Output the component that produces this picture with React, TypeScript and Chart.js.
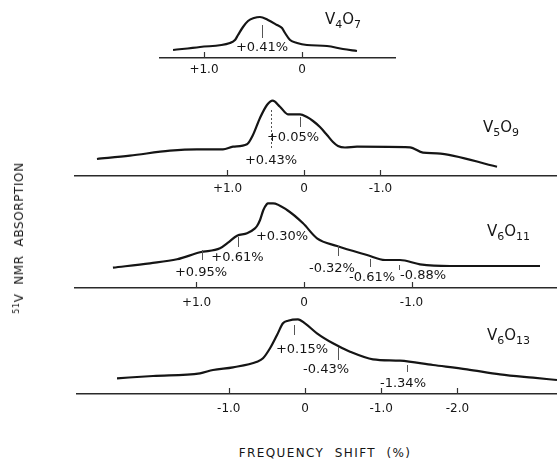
import { useEffect, useRef } from "react";
import { Chart, registerables } from "chart.js";

Chart.register(...registerables);

const FONT = '"DejaVu Sans", sans-serif';
const INK = "#151515";
const AXIS_H = 26;
const WIDTH = 557;

// Frequency shift (%) and relative 51V absorption for each oxide
const v4o7Shift = [1.316, 1.04, 0.735, 0.684, 0.653, 0.602, 0.551, 0.49, 0.429, 0.347, 0.255, 0.204, 0.173, 0.122, 0.05, -0.05, -0.255, -0.418, -0.561];
const v4o7Abs = [8, 11, 15, 18, 23, 31, 37, 40, 41, 38, 33, 30, 25, 18, 15, 13, 12, 9, 7];

const v5o9Shift = [2.706, 2.275, 1.752, 1.399, 1.059, 0.928, 0.745, 0.667, 0.575, 0.484, 0.409, 0.314, 0.209, 0.052, -0.039, -0.118, -0.209, -0.301, -0.379, -0.444, -0.536, -0.693, -1.386, -1.556, -1.739, -2.523];
const v5o9Abs = [17, 20.3, 25.3, 26.7, 26.7, 29.3, 31.7, 41, 58, 71, 75.3, 69.3, 61.7, 61.7, 59, 55, 49, 41, 34, 30, 28.5, 29.3, 28.7, 23.3, 22.7, 9.3];

const v6o11Shift = [1.777, 1.433, 1.181, 0.967, 0.781, 0.707, 0.623, 0.53, 0.456, 0.437, 0.409, 0.378, 0.347, 0.335, 0.288, 0.158, 0.009, -0.121, -0.307, -0.586, -0.754, -0.893, -1.079, -1.358, -2.195];
const v6o11Abs = [20.3, 24.7, 28.7, 35.7, 39.7, 45.3, 52.3, 54.7, 59.7, 62, 68, 78, 83.7, 84.7, 84.7, 78, 64.7, 49.7, 42, 33, 28, 28, 23.7, 22, 22];

const v6o13Shift = [2.467, 1.995, 1.378, 1.207, 0.945, 0.63, 0.551, 0.459, 0.367, 0.289, 0.223, 0.092, 0, -0.157, -0.367, -0.591, -0.892, -1.247, -1.68, -2.126, -2.559, -2.992, -3.307];
const v6o13Abs = [15.7, 18, 20.7, 24, 26.7, 32.3, 35.7, 45.7, 59, 70.7, 73.3, 74.7, 70.7, 60.7, 50.7, 42.3, 34.7, 33.3, 29, 24.7, 19.7, 16.3, 14];

// Axis tick values and their printed labels
const v4o7Ticks = [1, 0];
const v4o7TickLabels = ["+1.0", "0"];
const v5o9Ticks = [1, 0, -1];
const v5o9TickLabels = ["+1.0", "0", "-1.0"];
const v6o11Ticks = [1, 0, -1];
const v6o11TickLabels = ["+1.0", "0", "-1.0"];
const v6o13Ticks = [1, 0, -1, -2];
const v6o13TickLabels = ["-1.0", "0", "-1.0", "-2.0"];

// Resolved line positions (%) marked on each spectrum
const v4o7Lines = [0.41];
const v5o9Lines = [0.43, 0.05];
const v6o11Lines = [0.95, 0.61, 0.3, -0.32, -0.61, -0.88];
const v6o13Lines = [0.15, -0.43, -1.34];

const pct = (v: number) => (v > 0 ? "+" : "-") + Math.abs(v).toFixed(2) + "%";

type Mark = { from?: number; to?: number; tx: number; ty: number; dashed?: boolean };

type Panel = {
  shift: number[];
  abs: number[];
  ticks: number[];
  tickLabels: string[];
  lines: number[];
  marks: Mark[];
  top: number;
  plotH: number;
  padLeft: number;
  padRight: number;
  min: number;
  max: number;
  tickPad: number;
};

const panels: Panel[] = [
  {
    shift: v4o7Shift, abs: v4o7Abs, ticks: v4o7Ticks, tickLabels: v4o7TickLabels, lines: v4o7Lines,
    marks: [{ from: 33, to: 20, tx: 0.408, ty: 10 }],
    top: 0, plotH: 58, padLeft: 160, padRight: 162, min: -0.949, max: 1.449, tickPad: 5,
  },
  {
    shift: v5o9Shift, abs: v5o9Abs, ticks: v5o9Ticks, tickLabels: v5o9TickLabels, lines: v5o9Lines,
    marks: [
      { from: 66, to: 28, tx: 0.431, ty: 15, dashed: true },
      { from: 59, to: 49, tx: 0.144, ty: 38.3 },
    ],
    top: 95, plotH: 81, padLeft: 75, padRight: 0, min: -3.307, max: 2.993, tickPad: 5.5,
  },
  {
    shift: v6o11Shift, abs: v6o11Abs, ticks: v6o11Ticks, tickLabels: v6o11TickLabels, lines: v6o11Lines,
    marks: [
      { from: 38, to: 28, tx: 0.958, ty: 15 },
      { from: 51, to: 41, tx: 0.619, ty: 30 },
      { tx: 0.205, ty: 51.3 },
      { from: 42, to: 32, tx: -0.26, ty: 19 },
      { from: 29, to: 21, tx: -0.633, ty: 10 },
      { from: 23, to: 18, tx: -1.107, ty: 12 },
    ],
    top: 196, plotH: 92, padLeft: 75, padRight: 0, min: -2.353, max: 2.13, tickPad: 8,
  },
  {
    shift: v6o13Shift, abs: v6o13Abs, ticks: v6o13Ticks, tickLabels: v6o13TickLabels, lines: v6o13Lines,
    marks: [
      { from: 69, to: 59, tx: 0.039, ty: 44.7 },
      { from: 47, to: 34, tx: -0.276, ty: 24.7 },
      { from: 29, to: 22, tx: -1.286, ty: 10.7 },
    ],
    top: 310, plotH: 84, padLeft: 77, padRight: 0, min: -3.307, max: 2.992, tickPad: 7.5,
  },
];

function makeOverlay(p: Panel) {
  return {
    id: "spectrumMarks",
    afterDatasetsDraw(chart: Chart) {
      const { ctx, chartArea } = chart;
      const x = chart.scales.x;
      const y = chart.scales.y;
      ctx.save();
      // short ticks rising from the frequency axis
      ctx.strokeStyle = "#333";
      ctx.lineWidth = 1.2;
      for (const v of p.ticks) {
        const px = Math.round(x.getPixelForValue(v)) + 0.5;
        ctx.beginPath();
        ctx.moveTo(px, chartArea.bottom);
        ctx.lineTo(px, chartArea.bottom - 6);
        ctx.stroke();
      }
      // line position markers and their labels
      p.lines.forEach((v, i) => {
        const m = p.marks[i];
        if (m.from !== undefined && m.to !== undefined) {
          const px = Math.round(x.getPixelForValue(v)) + 0.5;
          ctx.strokeStyle = "#555";
          ctx.lineWidth = 1;
          ctx.setLineDash(m.dashed ? [2, 2] : []);
          ctx.beginPath();
          ctx.moveTo(px, y.getPixelForValue(m.from));
          ctx.lineTo(px, y.getPixelForValue(m.to));
          ctx.stroke();
          ctx.setLineDash([]);
        }
        ctx.fillStyle = INK;
        ctx.font = `13px ${FONT}`;
        ctx.textAlign = "center";
        ctx.textBaseline = "middle";
        ctx.fillText(pct(v), x.getPixelForValue(m.tx), y.getPixelForValue(m.ty));
      });
      ctx.restore();
    },
  };
}

function Spectrum({ p }: { p: Panel }) {
  const ref = useRef<HTMLCanvasElement>(null);
  useEffect(() => {
    const chart = new Chart(ref.current as HTMLCanvasElement, {
      type: "line",
      data: {
        datasets: [
          {
            data: p.shift.map((s, i) => ({ x: s, y: p.abs[i] })),
            borderColor: INK,
            borderWidth: 2.2,
            pointRadius: 0,
            fill: false,
            cubicInterpolationMode: "monotone",
            clip: false as any,
          },
        ],
      },
      options: {
        responsive: false,
        animation: false,
        devicePixelRatio: 1,
        events: [],
        layout: { padding: { left: p.padLeft, right: p.padRight, top: 0, bottom: 0 } },
        plugins: { legend: { display: false }, tooltip: { enabled: false } },
        scales: {
          x: {
            type: "linear",
            reverse: true,
            min: p.min,
            max: p.max,
            afterBuildTicks: (scale: any) => {
              scale.ticks = p.ticks.map((v) => ({ value: v }));
            },
            afterFit: (scale: any) => {
              scale.height = AXIS_H;
            },
            grid: { display: true, drawOnChartArea: false, drawTicks: false },
            border: { display: true, color: "#2a2a2a", width: 1.6 },
            ticks: {
              autoSkip: false,
              maxRotation: 0,
              minRotation: 0,
              padding: p.tickPad,
              color: INK,
              font: { family: FONT, size: 12 },
              callback: (_v: any, i: number) => p.tickLabels[i],
            },
          },
          y: { display: false, min: 0, max: p.plotH },
        },
      },
      plugins: [makeOverlay(p)],
    });
    return () => chart.destroy();
  }, [p]);
  const h = p.plotH + AXIS_H;
  return (
    <canvas
      ref={ref}
      width={WIDTH}
      height={h}
      style={{ position: "absolute", left: 0, top: p.top, width: WIDTH, height: h }}
    />
  );
}

function Formula({ left, capTop, m, n }: { left: number; capTop: number; m: string; n: string }) {
  const sub = { fontSize: 11, position: "relative" as const, top: 4 };
  return (
    <div
      style={{
        position: "absolute",
        left,
        top: capTop - 2,
        fontFamily: FONT,
        fontSize: 15,
        lineHeight: "15px",
        color: INK,
        whiteSpace: "nowrap",
      }}
    >
      V<span style={sub}>{m}</span>O<span style={sub}>{n}</span>
    </div>
  );
}

export default function App() {
  return (
    <div
      style={{
        position: "absolute",
        left: 0,
        top: 0,
        width: WIDTH,
        height: 462,
        background: "#fff",
        overflow: "hidden",
      }}
    >
      {panels.map((p, i) => (
        <Spectrum key={i} p={p} />
      ))}
      <Formula left={325} capTop={14} m="4" n="7" />
      <Formula left={483} capTop={122} m="5" n="9" />
      <Formula left={487} capTop={226} m="6" n="11" />
      <Formula left={487} capTop={330} m="6" n="13" />
      <div
        style={{
          position: "absolute",
          left: 19,
          top: 238,
          transform: "translate(-50%, -50%) rotate(-90deg)",
          fontFamily: FONT,
          fontSize: 12,
          letterSpacing: 0.6,
          color: INK,
          whiteSpace: "pre",
        }}
      >
        <span style={{ fontSize: 8, position: "relative", top: -4 }}>51</span>V  NMR  ABSORPTION
      </div>
      <div
        style={{
          position: "absolute",
          left: 325,
          top: 453,
          transform: "translate(-50%, -50%)",
          fontFamily: FONT,
          fontSize: 12,
          letterSpacing: 1.4,
          color: INK,
          whiteSpace: "pre",
        }}
      >
        FREQUENCY  SHIFT  (%)
      </div>
    </div>
  );
}
